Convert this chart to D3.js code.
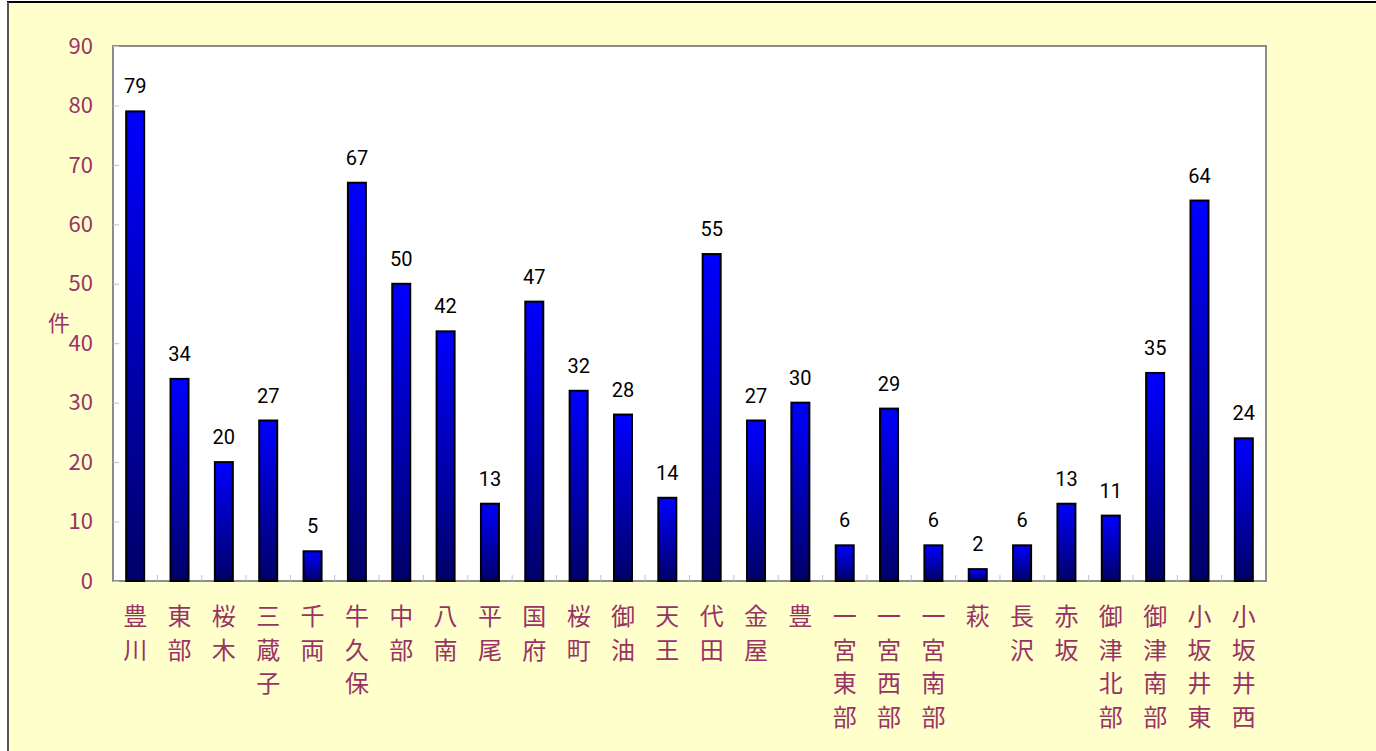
<!DOCTYPE html>
<html lang="ja">
  <head>
    <meta charset="utf-8">
    <title>件数</title>
    <script src="https://d3js.org/d3.v7.min.js"></script>
    <style>
      html, body { margin: 0; padding: 0; background: #fff; overflow: hidden; }
      svg { display: block; }
    </style>
  </head>
  <body>
    <script type="text/javascript">
      var w = 1376;
      var h = 751;
      var margin = {top: 46, right: 110, bottom: 170, left: 113};
      var innerWidth = w - margin.left - margin.right;
      var innerHeight = h - margin.top - margin.bottom;

      var categories = ["豊川", "東部", "桜木", "三蔵子", "千両", "牛久保", "中部", "八南", "平尾", "国府",
                        "桜町", "御油", "天王", "代田", "金屋", "豊", "一宮東部", "一宮西部", "一宮南部", "萩",
                        "長沢", "赤坂", "御津北部", "御津南部", "小坂井東", "小坂井西"];
      var counts = [79, 34, 20, 27, 5, 67, 50, 42, 13, 47,
                    32, 28, 14, 55, 27, 30, 6, 29, 6, 2,
                    6, 13, 11, 35, 64, 24];
      var yTicks = [0, 10, 20, 30, 40, 50, 60, 70, 80, 90];
      var yLabel = "件";

      var labelColor = "#993366";

      var svg = d3.select("body")
          .append("svg")
          .attr("width", w)
          .attr("height", h);

      // bar gradient, bright blue on top to navy at the base
      var grad = svg.append("defs").append("linearGradient")
          .attr("id", "barGrad")
          .attr("x1", 0).attr("y1", 0).attr("x2", 0).attr("y2", 1);
      grad.append("stop").attr("offset", "0%").attr("stop-color", "#0000ff");
      grad.append("stop").attr("offset", "100%").attr("stop-color", "#000068");

      // chart area background and frame
      svg.append("rect")
          .attr("x", 8).attr("y", 2)
          .attr("width", w - 8).attr("height", h - 2)
          .attr("fill", "#ffffcc");
      svg.append("line")
          .attr("x1", 7).attr("y1", 2).attr("x2", w).attr("y2", 2)
          .style("stroke", "#000").attr("stroke-width", 2);
      svg.append("line")
          .attr("x1", 8).attr("y1", 2).attr("x2", 8).attr("y2", h)
          .style("stroke", "#555").attr("stroke-width", 2);

      var xScale = d3.scaleBand()
          .domain(categories)
          .range([margin.left, margin.left + innerWidth]);
      var yScale = d3.scaleLinear()
          .domain([0, 90])
          .range([margin.top + innerHeight, margin.top]);

      // plot area
      svg.append("rect")
          .attr("x", margin.left).attr("y", margin.top)
          .attr("width", innerWidth).attr("height", innerHeight)
          .attr("fill", "#fff")
          .style("stroke", "#8c8c8c")
          .attr("stroke-width", 2);

      // small inward ticks
      var yAxis = d3.axisRight(yScale).tickValues(yTicks).tickSize(6).tickFormat("");
      svg.append("g")
          .attr("transform", "translate(" + margin.left + ",0)")
          .call(yAxis)
          .call(function(g) {
            g.select(".domain").remove();
            g.selectAll("line").style("stroke", "#c0c0c0");
          });
      var boundaries = categories.slice(1);
      svg.append("g").selectAll("line")
          .data(boundaries)
          .enter()
          .append("line")
          .attr("x1", d => xScale(d))
          .attr("x2", d => xScale(d))
          .attr("y1", yScale(0))
          .attr("y2", yScale(0) - 6)
          .style("stroke", "#c0c0c0");

      // y tick labels
      svg.append("g").selectAll("text")
          .data(yTicks)
          .enter()
          .append("text")
          .attr("x", 93)
          .attr("y", d => yScale(d))
          .attr("dy", "0.35em")
          .attr("text-anchor", "end")
          .style("font-family", "'Noto Sans CJK JP', 'Noto Sans', sans-serif")
          .style("font-size", "22px")
          .attr("fill", labelColor)
          .text(d => d);

      svg.append("text")
          .attr("x", 59)
          .attr("y", 323)
          .attr("dy", "0.35em")
          .attr("text-anchor", "middle")
          .style("font-family", "'Noto Sans CJK JP', sans-serif")
          .style("font-size", "22px")
          .attr("fill", labelColor)
          .text(yLabel);

      // bars
      var barW = 18;
      var data = categories.map(function(c, i) { return {cat: c, v: counts[i]}; });
      svg.append("g").selectAll("rect")
          .data(data)
          .enter()
          .append("rect")
          .attr("x", d => xScale(d.cat) + xScale.bandwidth() / 2 - barW / 2)
          .attr("y", d => yScale(d.v))
          .attr("width", barW)
          .attr("height", d => yScale(0) - yScale(d.v))
          .attr("fill", "url(#barGrad)")
          .style("stroke", "#000")
          .attr("stroke-width", 2);

      // value labels
      svg.append("g").selectAll("text")
          .data(data)
          .enter()
          .append("text")
          .attr("x", d => xScale(d.cat) + xScale.bandwidth() / 2)
          .attr("y", d => yScale(d.v) - 18)
          .attr("text-anchor", "middle")
          .style("font-family", "Roboto, 'Liberation Sans', sans-serif")
          .style("font-size", "20px")
          .attr("fill", "#000")
          .text(d => d.v);

      // category labels, one character per line
      var chars = [];
      data.forEach(function(d) {
        Array.from(d.cat).forEach(function(ch, i) { chars.push({cat: d.cat, ch: ch, row: i}); });
      });
      svg.append("g").selectAll("text")
          .data(chars)
          .enter()
          .append("text")
          .attr("x", d => xScale(d.cat) + xScale.bandwidth() / 2)
          .attr("y", d => 625 + d.row * 33.5)
          .attr("text-anchor", "middle")
          .style("font-family", "'Noto Sans CJK JP', sans-serif")
          .style("font-size", "24px")
          .attr("fill", labelColor)
          .text(d => d.ch);
    </script>
  </body>
</html>
